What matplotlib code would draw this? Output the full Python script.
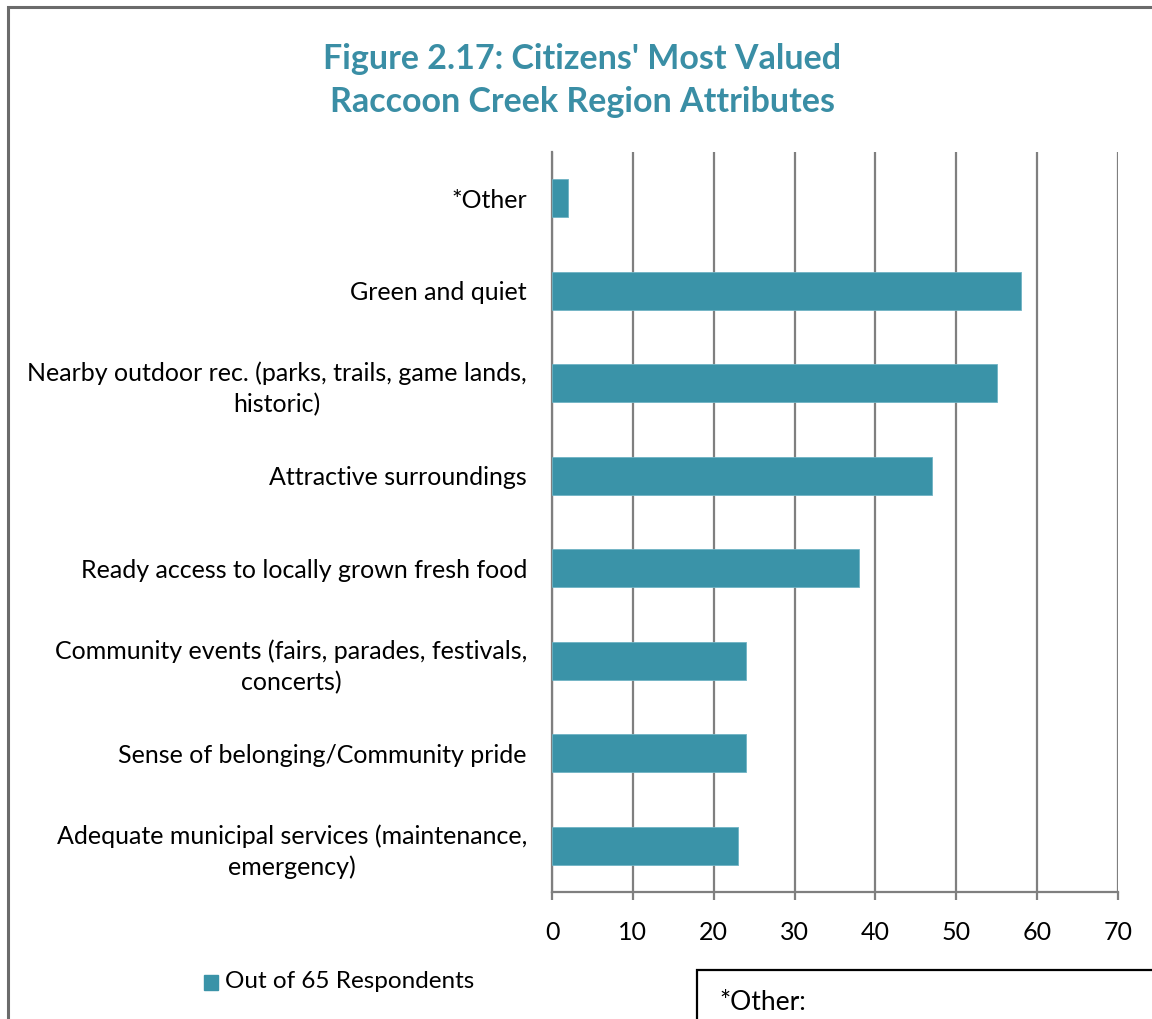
import matplotlib
matplotlib.use("Agg")
from matplotlib import pyplot as plt
from matplotlib.patches import Rectangle

# данные с картинки (снизу вверх как в barh)
categories = [
    "Adequate municipal services (maintenance,\nemergency)",
    "Sense of belonging/Community pride",
    "Community events (fairs, parades, festivals,\nconcerts)",
    "Ready access to locally grown fresh food",
    "Attractive surroundings",
    "Nearby outdoor rec. (parks, trails, game lands,\nhistoric)",
    "Green and quiet",
    "*Other",
]
respondents = [23, 24, 24, 38, 47, 55, 58, 2]
x_ticks = [0, 10, 20, 30, 40, 50, 60, 70]

teal = "#3a93a8"
title_col = "#3a8ea5"
grid_col = "#7f7f7f"

plt.rcParams['font.family'] = ['Lato', 'DejaVu Sans']

fig = plt.figure(figsize=(11.52, 10.19), dpi=100)
ax = fig.add_axes([552/1152, 1-892/1019, (1118-552)/1152, (892-152)/1019])

ax.barh(range(len(categories)), respondents, height=0.41, color=teal,
        edgecolor="#6fb3c4", linewidth=0.6, zorder=3)
ax.set_ylim(-0.5, len(categories) - 0.5)
ax.set_xlim(0, 70)
ax.set_xticks(x_ticks)
ax.set_yticks(range(len(categories)))
ax.set_yticklabels(categories, fontsize=18, ha="right", multialignment="center",
                   linespacing=1.4)

ax.xaxis.grid(True, color=grid_col, linewidth=1.6, zorder=0)
for s in ["top", "right"]:
    ax.spines[s].set_visible(False)
ax.spines["left"].set_color(grid_col)
ax.spines["left"].set_linewidth(1.6)
ax.spines["bottom"].set_color(grid_col)
ax.spines["bottom"].set_linewidth(1.6)
ax.tick_params(axis="y", length=0, pad=18)
ax.tick_params(axis="x", length=6, width=1.6, color=grid_col, labelsize=18, pad=15)

fig.text(582/1152, 1-80.5/1019, "Figure 2.17: Citizens' Most Valued\nRaccoon Creek Region Attributes",
         ha="center", va="center", fontsize=24.5, fontweight="bold", color=title_col,
         linespacing=1.4)

# легенда вручную
fig.patches.append(Rectangle((204/1152, 1-990/1019), 14/1152, 15/1019,
                             transform=fig.transFigure, color=teal))
fig.text(225/1152, 1-982/1019, "Out of 65 Respondents", ha="left", va="center",
         fontsize=17.5)

# рамка и нижний блок *Other
fig.patches.append(Rectangle((8/1152, -0.1), 1.2, 1.1 - 7/1019, transform=fig.transFigure,
                             fill=False, edgecolor="#6b6b6b", linewidth=2.2, clip_on=False))
fig.patches.append(Rectangle((697/1152, -0.1), 0.5, 0.1 + 1 - 970/1019, transform=fig.transFigure,
                             fill=False, edgecolor="black", linewidth=1.6, clip_on=False))
fig.text(719/1152, 1-1002/1019, "*Other:", ha="left", va="center", fontsize=19)

fig.savefig("out.png", dpi=100)
